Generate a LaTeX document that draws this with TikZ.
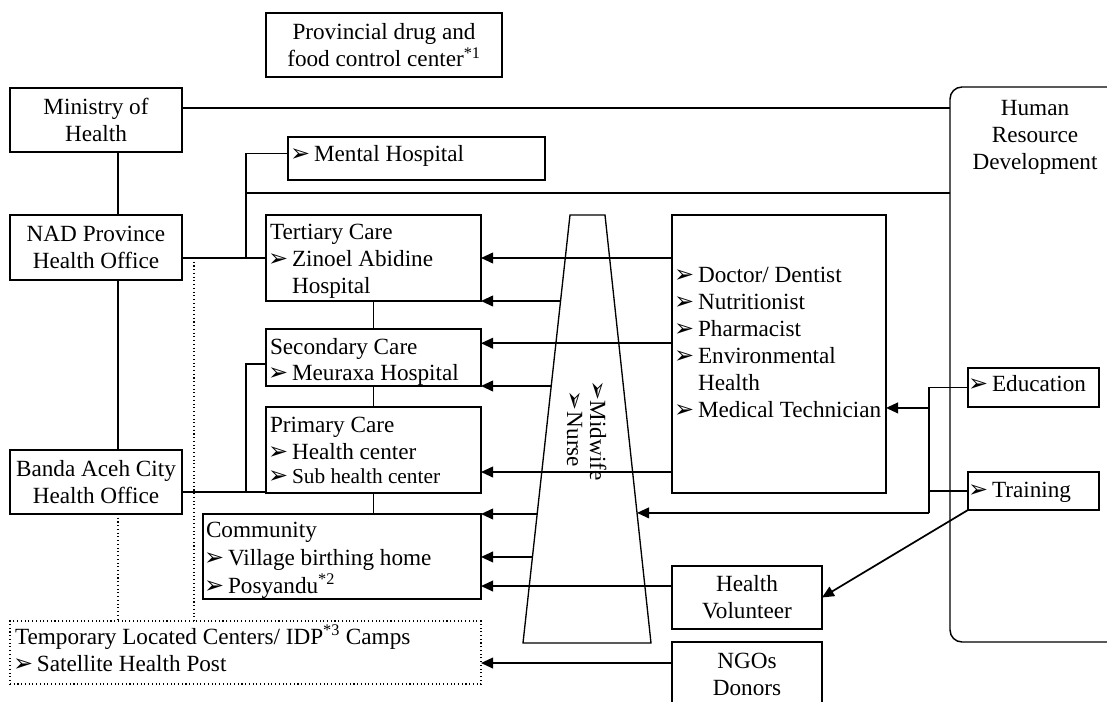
\documentclass[tikz,border=0pt]{standalone}
\usepackage{fontspec}
\setmainfont{Liberation Serif}
\newfontfamily\symf{DejaVu Sans}
\usetikzlibrary{arrows.meta,calc}
\newcommand\bul{\makebox[16.5pt][l]{\kern-1.5pt\symf\fontsize{18}{18}\selectfont ➢}}
\newcommand\sbul{\makebox[14pt][l]{\kern-1.5pt\symf\fontsize{18}{18}\selectfont ➢}}
\begin{document}
\begin{tikzpicture}[x=0.75pt,y=-0.75pt,
  every node/.style={font=\fontsize{17.4}{20.25}\selectfont},
  box/.style={draw, line width=1.1pt, inner sep=0pt, outer sep=0pt, align=center},
  dbox/.style={draw, line width=0.8pt, dotted, inner sep=0pt, outer sep=0pt},
  txt/.style={inner sep=0pt, outer sep=0pt, align=left, anchor=north west},
  ln/.style={line width=0.8pt},
  dl/.style={line width=0.8pt, dotted},
  arr/.style={line width=1.3pt, -{Triangle[length=9pt,width=8pt]}},
]
\useasboundingbox (0,0) rectangle (1107,702);

% boxes
\node[box, minimum width=177pt, minimum height=48pt] (prov) at (384,45) {Provincial drug and\\food control center\textsuperscript{*1}};
\node[box, minimum width=129pt, minimum height=48pt] (moh) at (96,120) {Ministry of\\Health};
\node[box, minimum width=129pt, minimum height=48.75pt] (nad) at (96,247.5) {NAD Province\\Health Office};
\node[box, minimum width=129pt, minimum height=48pt] (banda) at (96,482) {Banda Aceh City\\Health Office};
\node[box, minimum width=192.75pt, minimum height=32.25pt] (mental) at (416.5,158.5) {};
\node[box, minimum width=161.25pt, minimum height=64.5pt] (tert) at (373.5,258) {};
\node[box, minimum width=161.25pt, minimum height=42.75pt] (sec) at (373.5,357.5) {};
\node[box, minimum width=161.25pt, minimum height=64.5pt] (prim) at (373.5,450) {};
\node[box, minimum width=208.5pt, minimum height=63.75pt] (comm) at (342,556.5) {};
\node[dbox, minimum width=353.25pt, minimum height=47.25pt] (tmp) at (245.5,652.5) {};
\node[box, minimum width=160.5pt, minimum height=208.5pt] (prof) at (779,354) {};
\node[box, minimum width=98.25pt, minimum height=29.25pt] (edu) at (1033.5,387.5) {};
\node[box, minimum width=98.25pt, minimum height=28.5pt] (train) at (1033.5,491) {};
\node[box, minimum width=112.5pt, minimum height=47.25pt] (hv) at (747,597.5) {Health\\Volunteer};
\node[box, minimum width=112.5pt, minimum height=48pt] (ngo) at (747,674) {NGOs\\Donors};
\node[box, rounded corners=9pt, minimum width=127.5pt, minimum height=416.25pt] (hrd) at (1035,364.5) {};

% texts
\node[txt] (mentalT) at (292,143.1) {\strut\bul Mental Hospital};
\node[txt] (tertT) at (270,221.1) {\strut Tertiary Care\\\bul Zinoel Abidine\\\hphantom{\bul}Hospital};
\node[txt] (secT) at (270,335.1) {\strut Secondary Care\\\bul Meuraxa Hospital};
\node[txt] (primT) at (270,413.1) {\strut Primary Care\\\bul Health center\\[-2.25pt]\bul{\fontsize{16}{20}\selectfont Sub health center}};
\node[txt] (commT) at (206,518.1) {\strut Community\\[0.75pt]\bul Village birthing home\\[0.75pt]\bul Posyandu\textsuperscript{*2}};
\node[txt] (tmpT) at (15,625.1) {\strut Temporary Located Centers/ IDP\textsuperscript{*3} Camps\\\bul Satellite Health Post};
\node[txt] (profT) at (676,263.1) {\strut\bul Doctor/ Dentist\\\bul Nutritionist\\\bul Pharmacist\\\bul Environmental\\\hphantom{\bul}Health\\\bul Medical Technician};
\node[txt] (eduT) at (970,373.1) {\strut\bul Education};
\node[txt] (trainT) at (970,478.1) {\strut\bul Training};
\node[inner sep=0pt, anchor=north, align=center] (hrdT) at (1035,96.1) {\strut Human\\Resource\\Development};

% trapezoid
\coordinate (tTL) at (570,215);
\coordinate (tTR) at (605,215);
\coordinate (tBR) at (651,643);
\coordinate (tBL) at (523,643);
\draw[line width=1pt] (tTL) -- (tTR) -- (tBR) -- (tBL) -- cycle;
\node[inner sep=0pt, outer sep=0pt, rotate=-90, anchor=north west, align=left] (mw) at (609,382) {\strut\sbul Midwife\\[-3pt]\hspace*{8.25pt}\sbul Nurse};

% left hierarchy lines
\coordinate (xa) at (118,0);
\coordinate (xb) at (246,0);
\coordinate (xc) at (194,0);
\draw[ln] ([yshift=9pt]moh.east) -- ([yshift=9pt]moh.east -| hrd.west);
\draw[ln] (moh.south -| xa) -- (nad.north -| xa);
\draw[ln] (nad.south -| xa) -- (banda.north -| xa);
\draw[dl] (banda.south -| xa) -- (tmp.north -| xa);
\draw[ln] (nad.east |- tert.west) -- (tert.west);
\coordinate (m1) at ([yshift=4pt]mental.west);
\draw[ln] (xb |- tert.west) -- (xb |- m1) -- (m1);
\coordinate (b2) at (246,193);
\draw[ln] (b2) -- (b2 -| hrd.west);
\draw[dl] (xc |- tert.west) -- (xc |- tmp.north);
\draw[ln] (tert.south) -- (sec.north);
\draw[ln] (sec.south) -- (prim.north);
\draw[ln] (prim.south) -- (prim.south |- comm.north);
\coordinate (bz) at ([yshift=-7.5pt]banda.east);
\draw[ln] (bz) -- (bz -| prim.west);
\coordinate (s1) at ([yshift=-4.875pt]sec.west);
\draw[ln] (bz -| xb) -- (xb |- s1) -- (s1);

% arrows to facilities
\draw[arr] (prof.west |- tert.east) -- (tert.east);
\draw[arr] ($(tTL)!0.201!(tBL)$) -- (tert.south east);
\coordinate (s2) at ($(sec.north east)!0.25!(sec.south east)$);
\draw[arr] (prof.west |- s2) -- (s2);
\draw[arr] ($(tTL)!0.3995!(tBL)$) -- (sec.south east);
\coordinate (p1) at ($(prim.north east)!0.756!(prim.south east)$);
\draw[arr] (prof.west |- p1) -- (p1);
\draw[arr] ($(tTL)!0.6986!(tBL)$) -- (comm.north east);
\coordinate (c2) at ($(tTL)!0.799!(tBL)$);
\draw[arr] (c2) -- (c2 -| comm.east);
\coordinate (h1) at ([yshift=8.6pt]hv.west);
\draw[arr] (h1) -- (h1 -| comm.east);
\coordinate (n1) at ([yshift=-7.9pt]tmp.east);
\draw[arr] (n1 -| ngo.west) -- (n1);

% right side
\coordinate (xj) at (929,0);
\coordinate (tr1) at ($(tTR)!0.696!(tBR)$);
\coordinate (jTop) at (xj |- edu.west);
\coordinate (jBot) at (xj |- tr1);
\draw[ln] (edu.west) -- (jTop) -- (jBot);
\draw[ln] (train.west) -- (xj |- train.west);
\coordinate (pr1) at ($(prof.north east)!0.694!(prof.south east)$);
\draw[arr] (xj |- pr1) -- (pr1);
\draw[arr] (jBot) -- (tr1);
\draw[arr] (train.south west) -- (hv.east);
\end{tikzpicture}
\end{document}
